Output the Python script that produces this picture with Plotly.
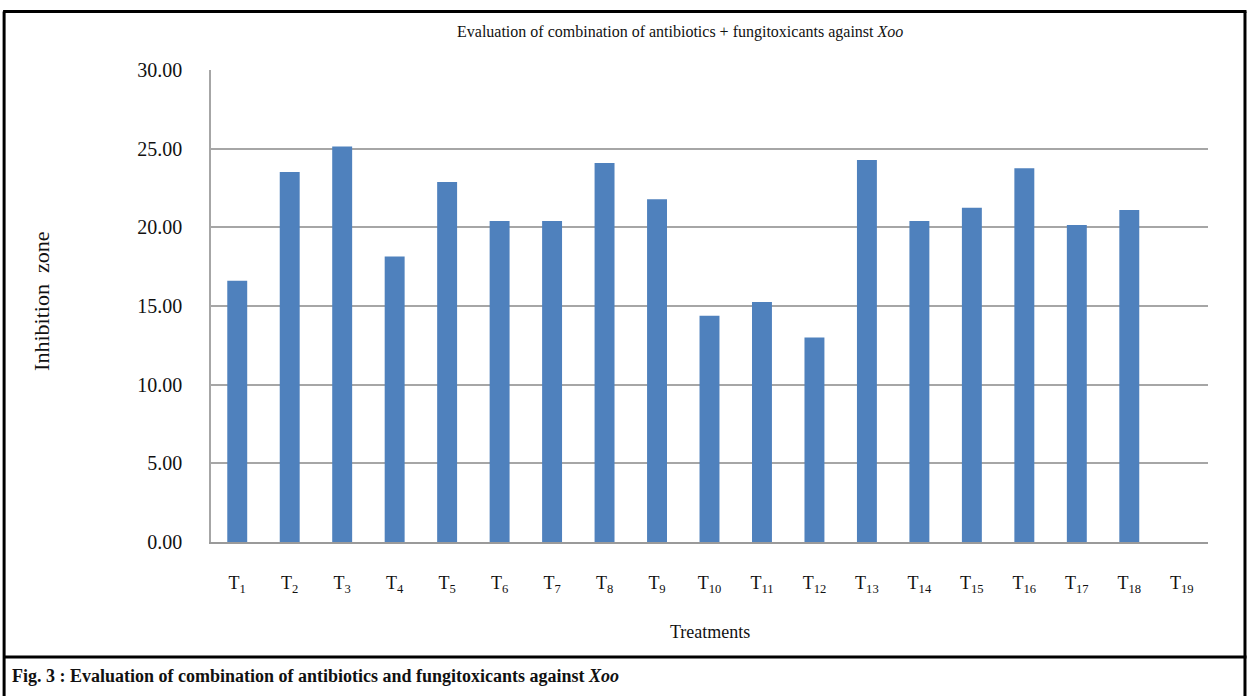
import plotly.graph_objects as go

# ---- data ----
treatments = [f"T{i}" for i in range(1, 20)]
tick_labels = [f"T<sub>{i}</sub>" for i in range(1, 20)]
inhibition_zone = [16.60, 23.52, 25.13, 18.15, 22.88, 20.40, 20.40, 24.09, 21.78,
                   14.38, 15.25, 13.00, 24.28, 20.40, 21.25, 23.75, 20.15, 21.10, 0.00]
y_ticks = [0, 5, 10, 15, 20, 25, 30]

chart_title = "Evaluation of combination of antibiotics + fungitoxicants against <i>Xoo</i>"
caption = "<b>Fig. 3 : Evaluation of combination of antibiotics and fungitoxicants against <i>Xoo</i></b>"

W, H = 1248, 696
L, R, T, B = 211, 1208.5, 70.4, 542

def px(x):
    return (x - L) / (R - L)

def py(y):
    return (B - y) / (B - T)

fig = go.Figure()
fig.add_trace(go.Bar(
    x=treatments, y=inhibition_zone,
    marker=dict(color="#4f81bd", line=dict(width=0)),
    width=0.38,
))

serif = "Liberation Serif, Times New Roman, serif"

fig.update_layout(
    width=W, height=H,
    margin=dict(l=L, r=W - R, t=T, b=H - B, autoexpand=False),
    paper_bgcolor="white", plot_bgcolor="white",
    showlegend=False,
    font=dict(family=serif, color="#111111"),
    xaxis=dict(
        tickmode="array", tickvals=treatments, ticktext=tick_labels,
        tickfont=dict(size=18, family=serif, color="#111"),
        showline=True, linecolor="#9a9a9a", linewidth=1.5,
        showgrid=False, ticks="", ticklabelstandoff=24,
        range=[-0.5, 18.5],
    ),
    yaxis=dict(
        range=[0, 30], tickvals=y_ticks, tickformat=".2f",
        tickfont=dict(size=20, family=serif, color="#111"),
        showgrid=True, gridcolor="#a6a6a6", gridwidth=1.5,
        showline=True, linecolor="#a6a6a6", linewidth=1.5,
        zeroline=False, ticks="", ticklabelstandoff=23,
    ),
)

annotations = [
    dict(text=chart_title, x=px(680), y=py(32), xref="paper", yref="paper",
         showarrow=False, font=dict(size=16, family=serif, color="#111"),
         xanchor="center", yanchor="middle"),
    dict(text="Inhibition&nbsp;&nbsp;zone", x=px(42), y=py(302), xref="paper", yref="paper",
         showarrow=False, textangle=-90, font=dict(size=22, family=serif, color="#111"),
         xanchor="center", yanchor="middle"),
    dict(text="Treatments", x=px(710), y=py(632), xref="paper", yref="paper",
         showarrow=False, font=dict(size=18, family=serif, color="#111"),
         xanchor="center", yanchor="middle"),
    dict(text=caption, x=px(10), y=py(676), xref="paper", yref="paper",
         showarrow=False, font=dict(size=18, family=serif, color="#111"),
         xanchor="left", yanchor="middle"),
]
fig.update_layout(annotations=annotations)

frame = dict(color="black", width=3)
shapes = [
    dict(type="line", xref="paper", yref="paper", x0=px(3), x1=px(1247), y0=py(12), y1=py(12), line=frame),
    dict(type="line", xref="paper", yref="paper", x0=px(4), x1=px(4), y0=py(12), y1=py(696), line=frame),
    dict(type="line", xref="paper", yref="paper", x0=px(1245.5), x1=px(1245.5), y0=py(12), y1=py(696), line=frame),
    dict(type="line", xref="paper", yref="paper", x0=px(3), x1=px(1247), y0=py(657), y1=py(657), line=frame),
]
fig.update_layout(shapes=shapes)

fig.write_html(
    "out.html",
    config={"displayModeBar": False},
    post_script="document.body.style.margin='0';document.body.style.overflow='hidden';",
)
